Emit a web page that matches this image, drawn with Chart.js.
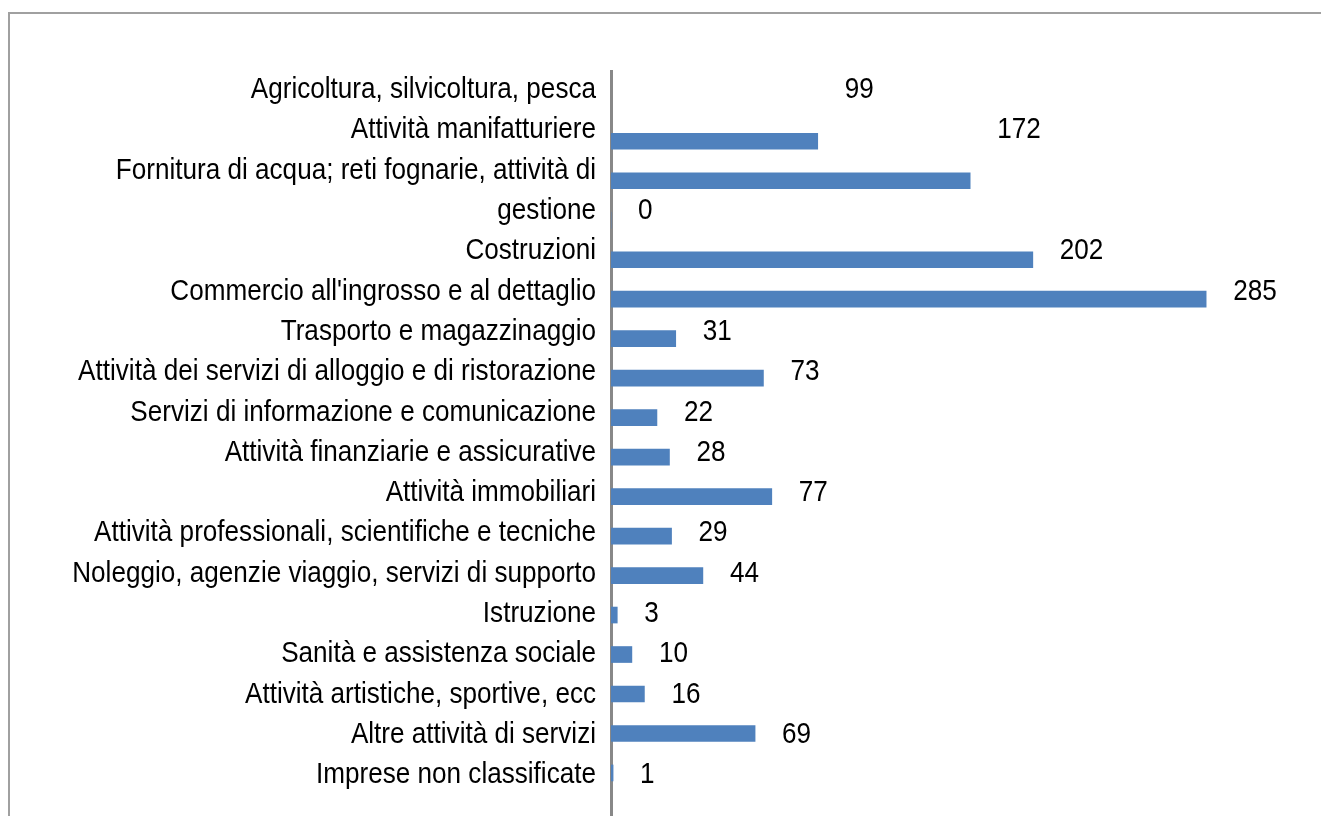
<!DOCTYPE html>
<html>
<head>
<meta charset="utf-8">
<script src="https://cdn.jsdelivr.net/npm/chart.js@4.4.1/dist/chart.umd.min.js"></script>
<style>
  html, body { margin: 0; padding: 0; background: #fff; }
  #wrap { position: relative; width: 1321px; height: 816px; overflow: hidden; }
  #frame { position: absolute; left: 8px; top: 12px; width: 1400px; height: 900px;
           border-top: 2px solid #a0a0a0; border-left: 2px solid #a0a0a0; }
  canvas { position: absolute; left: 0; top: 0; }
</style>
</head>
<body>
<div id="wrap">
  <div id="frame"></div>
  <canvas id="barChart" width="1321" height="816"></canvas>
</div>
<script>
// Chart data
var categories = [
  'Agricoltura, silvicoltura, pesca',
  'Attività manifatturiere',
  ['Fornitura di acqua; reti fognarie, attività di', 'gestione'],
  'Costruzioni',
  "Commercio all'ingrosso e al dettaglio",
  'Trasporto e magazzinaggio',
  'Attività dei servizi di alloggio e di ristorazione',
  'Servizi di informazione e comunicazione',
  'Attività finanziarie e assicurative',
  'Attività immobiliari',
  'Attività professionali, scientifiche e tecniche',
  'Noleggio, agenzie viaggio, servizi di supporto',
  'Istruzione',
  'Sanità e assistenza sociale',
  'Attività artistiche, sportive, ecc',
  'Altre attività di servizi',
  'Imprese non classificate'
];
var values = [99, 172, 0, 202, 285, 31, 73, 22, 28, 77, 29, 44, 3, 10, 16, 69, 1];

var fontFamily = '"Liberation Sans Narrow", "Arial Narrow", "Liberation Sans", Arial, sans-serif';
var narrow = 0.87; // the original text is a narrow face

// one tick line per text line; value labels sit on the last line of each category
var tickLines = [];
var lastLine = [];
categories.forEach(function(c) {
  var parts = Array.isArray(c) ? c : [c];
  parts.forEach(function(p) { tickLines.push(p); });
  lastLine.push(tickLines.length - 1);
});

// squeeze the category labels horizontally, anchored on their right edge
var condense = {
  id: 'condense',
  beforeDraw: function(chart) {
    var s = chart.scales.names;
    if (s._condensed) return;
    var orig = s.drawLabels;
    s.drawLabels = function(area) {
      var ctx = this.ctx;
      var ax = this.right - this.options.ticks.padding;
      var left = this.left;
      ctx.save();
      ctx.translate(ax, 0);
      ctx.scale(narrow, 1);
      ctx.translate(-ax, 0);
      this.left = -400; // keep the label clip box wide enough after squeezing
      orig.call(this, area);
      this.left = left;
      ctx.restore();
    };
    s._condensed = true;
  }
};

var valueLabels = {
  id: 'valueLabels',
  afterDatasetsDraw: function(chart) {
    var ctx = chart.ctx;
    var xs = chart.scales.x;
    var ys = chart.scales.names;
    ctx.save();
    ctx.font = '30px ' + fontFamily;
    ctx.fillStyle = '#000';
    ctx.textAlign = 'left';
    ctx.textBaseline = 'middle';
    values.forEach(function(v, i) {
      ctx.save();
      ctx.translate(xs.getPixelForValue(v) + 27, ys.getPixelForValue(lastLine[i]));
      ctx.scale(narrow, 1);
      ctx.fillText(String(v), 0, 0);
      ctx.restore();
    });
    ctx.restore();
  }
};

new Chart(document.getElementById('barChart').getContext('2d'), {
  type: 'bar',
  data: {
    datasets: [{
      data: values.map(function(v, i) { return {x: v, y: i}; }),
      xAxisID: 'x',
      yAxisID: 'y',
      backgroundColor: '#4F81BD',
      borderWidth: 0,
      barThickness: 16
    }]
  },
  options: {
    indexAxis: 'y',
    responsive: false,
    animation: false,
    layout: { padding: { top: 71, left: 0, right: 0, bottom: 0 } },
    scales: {
      x: {
        type: 'linear',
        min: 0,
        max: 340,
        offset: false,
        display: false
      },
      y: {
        type: 'linear',
        reverse: true,
        offset: false,
        bounds: 'data',
        grid: { offset: false },
        min: -1.78,
        max: 17.09,
        display: false
      },
      names: {
        type: 'linear',
        axis: 'y',
        position: 'left',
        reverse: true,
        offset: false,
        bounds: 'data',
        min: -0.47,
        max: 18.02,
        z: 1,
        grid: { display: false, drawTicks: false, offset: false },
        border: { display: true, color: '#888888', width: 3 },
        afterBuildTicks: function(scale) {
          scale.ticks = tickLines.map(function(t, k) { return {value: k}; });
        },
        afterFit: function(scale) {
          scale.width = 611;
          scale.paddingTop = 0;
          scale.paddingBottom = 0;
        },
        ticks: {
          autoSkip: false,
          padding: 15,
          color: '#000',
          font: { family: fontFamily, size: 30, lineHeight: 1.1 },
          callback: function(value, index) { return tickLines[index]; }
        }
      }
    },
    plugins: {
      legend: { display: false },
      tooltip: { enabled: false }
    }
  },
  plugins: [condense, valueLabels]
});
</script>
</body>
</html>
